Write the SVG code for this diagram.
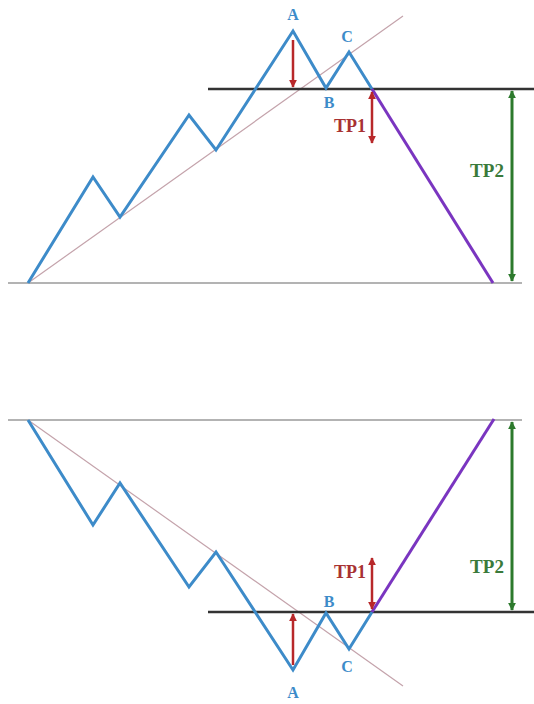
<svg xmlns="http://www.w3.org/2000/svg" width="534" height="704" viewBox="0 0 534 704">
<defs>
<style>
.wave{fill:none;stroke:#3d8bc9;stroke-width:3;stroke-linejoin:miter}
.trend{stroke:#c4a3ab;stroke-width:1.2}
.base{stroke:#9a9a9a;stroke-width:1.5}
.neck{stroke:#333;stroke-width:2.5}
.move{stroke:#7a35c0;stroke-width:3}
.red{stroke:#b8282a;stroke-width:2.5}
.green{stroke:#2d7a2d;stroke-width:3}
.lbl{font-family:"Liberation Serif",serif;font-weight:bold;font-size:16px;text-anchor:middle}
.blue{fill:#3d8bc9}
.tp1{fill:#a83232;font-size:18px}
.tp2{fill:#3a7a3a;font-size:19px}
</style>
<marker id="ar" viewBox="0 0 10 10" refX="9" refY="5" markerWidth="3.2" markerHeight="3.2" orient="auto-start-reverse"><path d="M0,0 L10,5 L0,10 z" fill="#b8282a"/></marker>
<marker id="ag" viewBox="0 0 10 10" refX="9" refY="5" markerWidth="2.6" markerHeight="2.6" orient="auto-start-reverse"><path d="M0,0 L10,5 L0,10 z" fill="#2d7a2d"/></marker>
</defs>
<rect width="534" height="704" fill="#fff"/>
<g id="top">
<line class="base" x1="8" y1="283" x2="522" y2="283"/>
<line class="trend" x1="28" y1="283" x2="403" y2="16"/>
<line class="neck" x1="208" y1="89" x2="534" y2="89"/>
<polyline class="wave" points="28,283 93,177 120,217 189,115 216,150 293,31 326,88 349,52 372,89"/>
<line class="move" x1="372" y1="89" x2="493" y2="283"/>
<line class="red" x1="293" y1="40" x2="293" y2="87" marker-end="url(#ar)"/>
<line class="red" x1="372" y1="92" x2="372" y2="143" marker-start="url(#ar)" marker-end="url(#ar)"/>
<line class="green" x1="512" y1="91" x2="512" y2="281" marker-start="url(#ag)" marker-end="url(#ag)"/>
<text class="lbl blue" x="293" y="20">A</text>
<text class="lbl blue" x="347" y="42">C</text>
<text class="lbl blue" x="329" y="108">B</text>
<text class="lbl tp1" x="350" y="132">TP1</text>
<text class="lbl tp2" x="487" y="177">TP2</text>
</g>
<g id="bottom">
<line class="base" x1="8" y1="420" x2="522" y2="420"/>
<line class="trend" x1="28" y1="420" x2="403" y2="686"/>
<line class="neck" x1="208" y1="612" x2="534" y2="612"/>
<polyline class="wave" points="28,420 93,525 120,483 189,587 216,552 293,670 326,613 349,649 372,612"/>
<line class="move" x1="372" y1="612" x2="494" y2="419"/>
<line class="red" x1="293" y1="665" x2="293" y2="614" marker-end="url(#ar)"/>
<line class="red" x1="372" y1="558" x2="372" y2="609" marker-start="url(#ar)" marker-end="url(#ar)"/>
<line class="green" x1="512" y1="422" x2="512" y2="610" marker-start="url(#ag)" marker-end="url(#ag)"/>
<text class="lbl blue" x="293" y="698">A</text>
<text class="lbl blue" x="347" y="672">C</text>
<text class="lbl blue" x="329" y="607">B</text>
<text class="lbl tp1" x="350" y="578">TP1</text>
<text class="lbl tp2" x="487" y="573">TP2</text>
</g>
</svg>
